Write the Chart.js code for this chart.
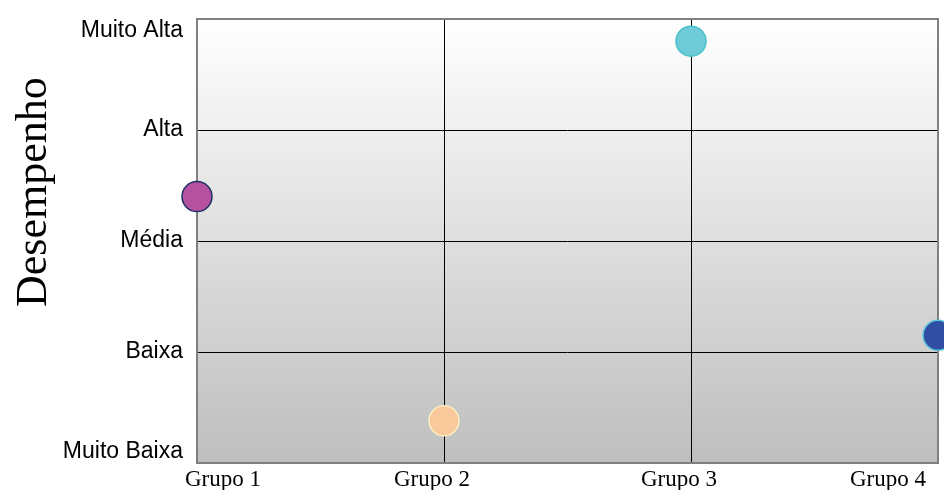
<!DOCTYPE html>
<html>
<head>
<meta charset="utf-8">
<script src="https://cdn.jsdelivr.net/npm/chart.js@4"></script>
<style>
  html, body { margin: 0; padding: 0; background: #ffffff; overflow: hidden; }
  #wrap { width: 944px; height: 490px; }
  canvas { display: block; }
</style>
</head>
<body>
<div id="wrap"><canvas id="chart"></canvas></div>
<script>
'use strict';

// categories on x, levels on y
const groups = ['Grupo 1', 'Grupo 2', 'Grupo 3', 'Grupo 4'];
const levels = ['Muito Baixa', 'Baixa', 'Média', 'Alta', 'Muito Alta'];

// performance of each group (0 = Muito Baixa ... 4 = Muito Alta)
const performance = [2.4, 0.38, 3.8, 1.15];

const fillColors = ['#b5519f', '#f8c99a', '#6fcbd8', '#2f4ea4'];
const edgeColors = ['#1f3366', '#fbefc0', '#45c1c9', '#5cc6da'];

let canvasElem = document.getElementById('chart');

// gradient background + grey frame around the plot
const plotFrame = {
  id: 'plotFrame',
  beforeDraw(chart) {
    let ctx = chart.ctx;
    let a = chart.chartArea;
    let grad = ctx.createLinearGradient(0, a.top, 0, a.bottom);
    grad.addColorStop(0, '#ffffff');
    grad.addColorStop(1, '#bebebe');
    ctx.save();
    ctx.fillStyle = grad;
    ctx.fillRect(a.left, a.top, a.right - a.left, a.bottom - a.top);
    ctx.restore();

    // keep the end labels of the y axis inside the plot height
    let items = chart.scales.y.getLabelItems();
    if (items.length) {
      items[0].options.textBaseline = 'bottom';
      items[items.length - 1].options.textBaseline = 'top';
    }
  },
  beforeDatasetsDraw(chart) {
    let ctx = chart.ctx;
    let a = chart.chartArea;
    ctx.save();
    ctx.strokeStyle = '#808080';
    ctx.lineWidth = 2;
    ctx.strokeRect(a.left, a.top, a.right - a.left, a.bottom - a.top);
    ctx.restore();
  },
  afterDraw(chart) {
    // y axis title, sits a bit above the middle like the original
    let ctx = chart.ctx;
    let a = chart.chartArea;
    ctx.save();
    ctx.translate(46, a.top + (a.bottom - a.top) * 0.39);
    ctx.rotate(-Math.PI / 2);
    ctx.font = '44px "Liberation Serif", "Times New Roman", serif';
    ctx.fillStyle = '#000000';
    ctx.textAlign = 'center';
    ctx.textBaseline = 'alphabetic';
    ctx.fillText('Desempenho', 0, 0);
    ctx.restore();
  }
};

// stop the axes from reserving room for overhanging labels
function noOverhang(scale) {
  scale.paddingLeft = 0;
  scale.paddingRight = 0;
  scale.paddingTop = 0;
  scale.paddingBottom = 0;
}

function renderChart() {
  let points = [];
  for (let i = 0; i < groups.length; i++) {
    points.push({ x: i, y: performance[i] });
  }

  let chartConfig = {
    type: 'scatter',
    data: {
      datasets: [{
        data: points,
        pointRadius: 15,
        pointHoverRadius: 15,
        pointBorderWidth: 1.5,
        backgroundColor: fillColors,
        borderColor: edgeColors,
        clip: false
      }]
    },
    options: {
      responsive: true,
      maintainAspectRatio: false,
      animation: false,
      layout: { autoPadding: false, padding: { top: 19, right: 6, bottom: 0, left: 0 } },
      plugins: {
        legend: { display: false },
        tooltip: { enabled: false }
      },
      scales: {
        x: {
          type: 'linear',
          min: 0,
          max: groups.length - 1,
          afterFit(scale) { scale.height = 27; noOverhang(scale); },
          border: { display: false },
          grid: { color: '#000000', lineWidth: 1, drawTicks: false },
          ticks: {
            stepSize: 1,
            padding: 3,
            align: 'inner',
            labelOffset: -12,
            color: '#000000',
            font: { family: '"Liberation Serif", "Times New Roman", serif', size: 23 },
            callback: (v) => groups[v]
          }
        },
        y: {
          type: 'linear',
          min: 0,
          max: levels.length - 1,
          afterFit(scale) { scale.width = 197; noOverhang(scale); },
          border: { display: false },
          grid: { color: '#000000', lineWidth: 1, drawTicks: false },
          ticks: {
            stepSize: 1,
            padding: 14,
            color: '#000000',
            font: { family: '"Liberation Sans", Arial, sans-serif', size: 23 },
            callback: (v) => levels[v]
          }
        }
      }
    },
    plugins: [plotFrame]
  };

  new Chart(canvasElem, chartConfig);
}

renderChart();
</script>
</body>
</html>
